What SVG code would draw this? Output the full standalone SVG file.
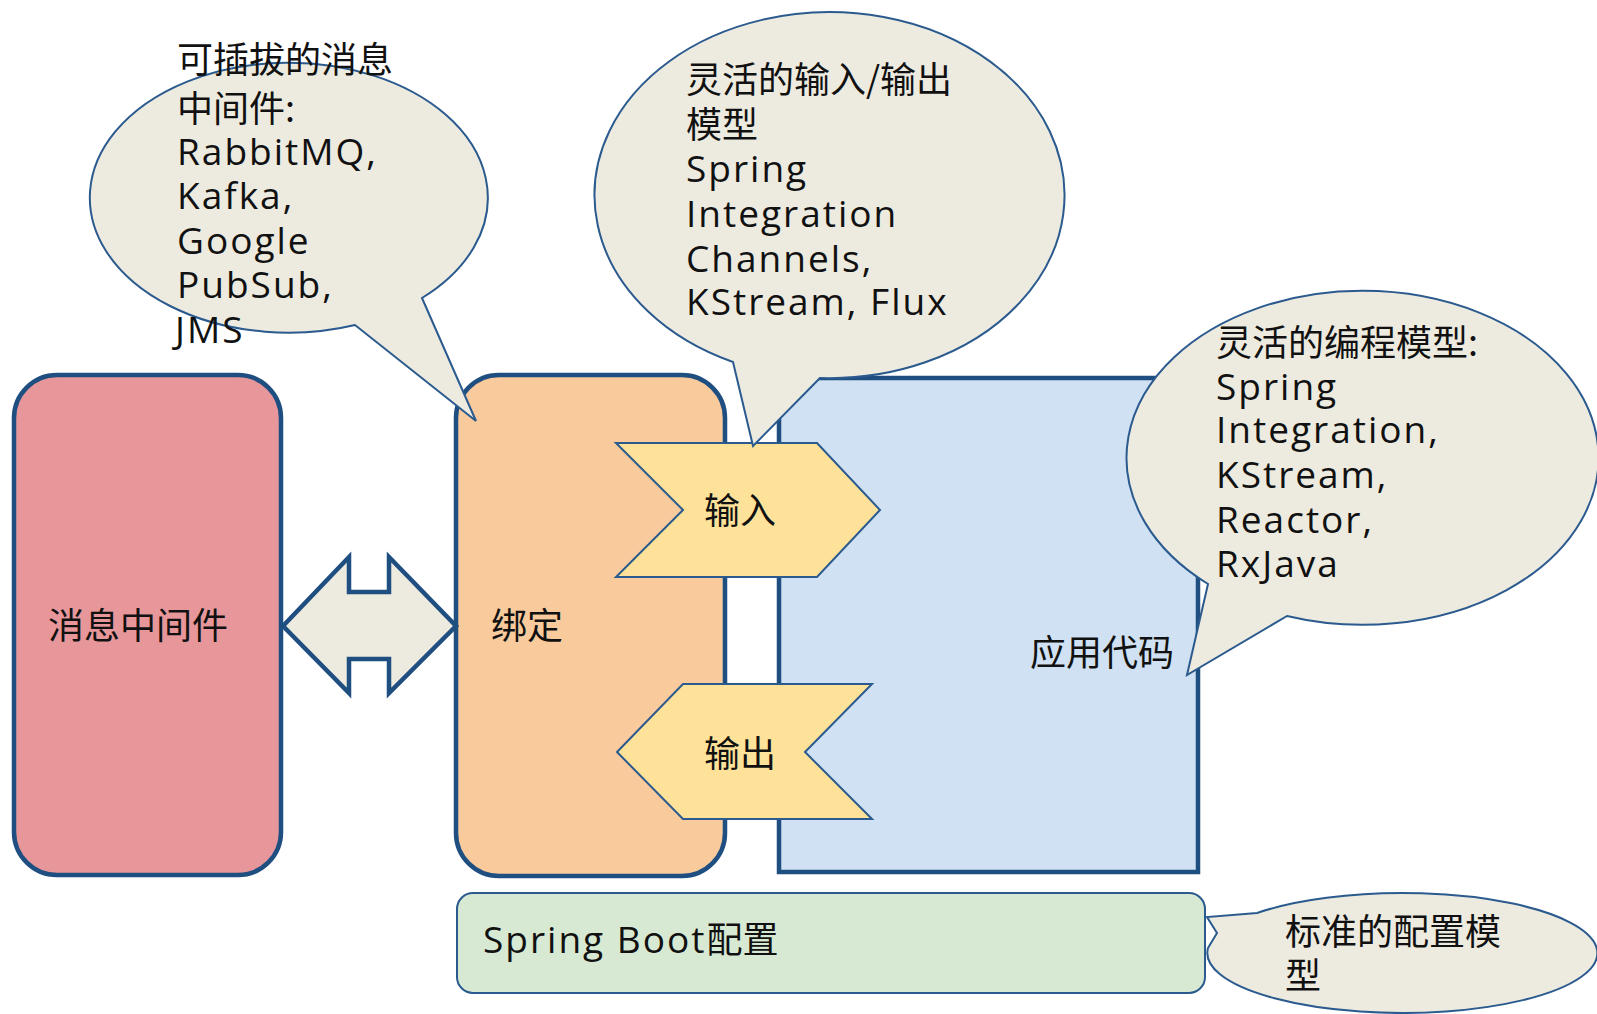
<svg xmlns="http://www.w3.org/2000/svg" width="1597" height="1014" viewBox="0 0 1597 1014">
<style>
.box{stroke:#1F4E80;stroke-width:4.5}
.bub{fill:#EDEBE0;stroke:#2B5A8E;stroke-width:2}
.chev{fill:#FEE299;stroke:#2B5A8E;stroke-width:2}
.cn{font-family:"Noto Sans CJK SC","Noto Sans",sans-serif;font-size:36px;fill:#111;letter-spacing:0}
.hw{font-family:"Open Sans","Noto Sans",sans-serif;font-size:37px;letter-spacing:2px;fill:#111}
</style>
<rect width="1597" height="1014" fill="#fff"/>
<g id="mq">
<rect class="box" x="14" y="375" width="267" height="500" rx="43" fill="#E7979A"/>
<text class="cn" x="48" y="639">消息中间件</text>
</g>
<g id="binding">
<rect class="box" x="456" y="375" width="269" height="501" rx="43" fill="#F8CA9C"/>
<text class="cn" x="491" y="639">绑定</text>
</g>
<g id="app">
<rect class="box" x="779" y="378" width="419" height="494" fill="#CFE1F2"/>
<text class="cn" x="1030" y="666">应用代码</text>
</g>
<g id="input">
<polygon class="chev" points="616,443 817,443 880,510 817,577 616,577 683,510"/>
<text class="cn" x="740" y="524" text-anchor="middle">输入</text>
</g>
<g id="output">
<polygon class="chev" points="683,684 872,684 805,752 872,819 683,819 617,752"/>
<text class="cn" x="740" y="767" text-anchor="middle">输出</text>
</g>
<g id="connectors">
<polygon points="283,626 349,557 349,592 389,592 389,557 456,626 389,693 389,659 349,659 349,693" fill="#EDEBE0" stroke="#1F4E80" stroke-width="4.5" stroke-linejoin="miter"/>
</g>
<g id="config">
<rect x="457" y="893" width="748" height="100" rx="16" fill="#D8E9D3" stroke="#2B5A8E" stroke-width="2"/>
<text x="483" y="953"><tspan class="hw">Spring Boot</tspan><tspan class="cn">配置</tspan></text>
</g>
<g id="bubble-middleware">
<path class="bub" d="M 422,298 L 476,421 L 355,325 A 199 135 0 1 1 422,298 Z"/>
<text><tspan class="cn" x="177" y="73">可插拔的消息</tspan><tspan class="cn" x="177" y="122">中间件:</tspan><tspan class="hw" x="177" y="165">RabbitMQ,</tspan><tspan class="hw" x="177" y="209">Kafka,</tspan><tspan class="hw" x="177" y="254">Google</tspan><tspan class="hw" x="177" y="298">PubSub,</tspan><tspan class="hw" x="175" y="343">JMS</tspan></text>
</g>
<g id="bubble-io">
<path class="bub" d="M 820,378 L 753,446 L 733,362 A 235 183 0 1 1 820,378 Z"/>
<text><tspan class="cn" x="686" y="93">灵活的输入/输出</tspan><tspan class="cn" x="686" y="138">模型</tspan><tspan class="hw" x="686" y="182">Spring</tspan><tspan class="hw" x="686" y="227">Integration</tspan><tspan class="hw" x="686" y="272">Channels,</tspan><tspan class="hw" x="686" y="315">KStream, Flux</tspan></text>
</g>
<g id="bubble-programming">
<path class="bub" d="M 1287,616 L 1187,675 L 1208,584 A 236 167 0 1 1 1287,616 Z"/>
<text><tspan class="cn" x="1216" y="356">灵活的编程模型:</tspan><tspan class="hw" x="1216" y="400">Spring</tspan><tspan class="hw" x="1216" y="443">Integration,</tspan><tspan class="hw" x="1216" y="488">KStream,</tspan><tspan class="hw" x="1216" y="533">Reactor,</tspan><tspan class="hw" x="1216" y="577">RxJava</tspan></text>
</g>
<g id="bubble-config">
<path class="bub" d="M 1208,948 L 1217,933 L 1207,917 L 1257,913 A 195 60 0 1 1 1208,948 Z"/>
<text class="cn"><tspan x="1285" y="945">标准的配置模</tspan><tspan x="1285" y="989">型</tspan></text>
</g>
</svg>
